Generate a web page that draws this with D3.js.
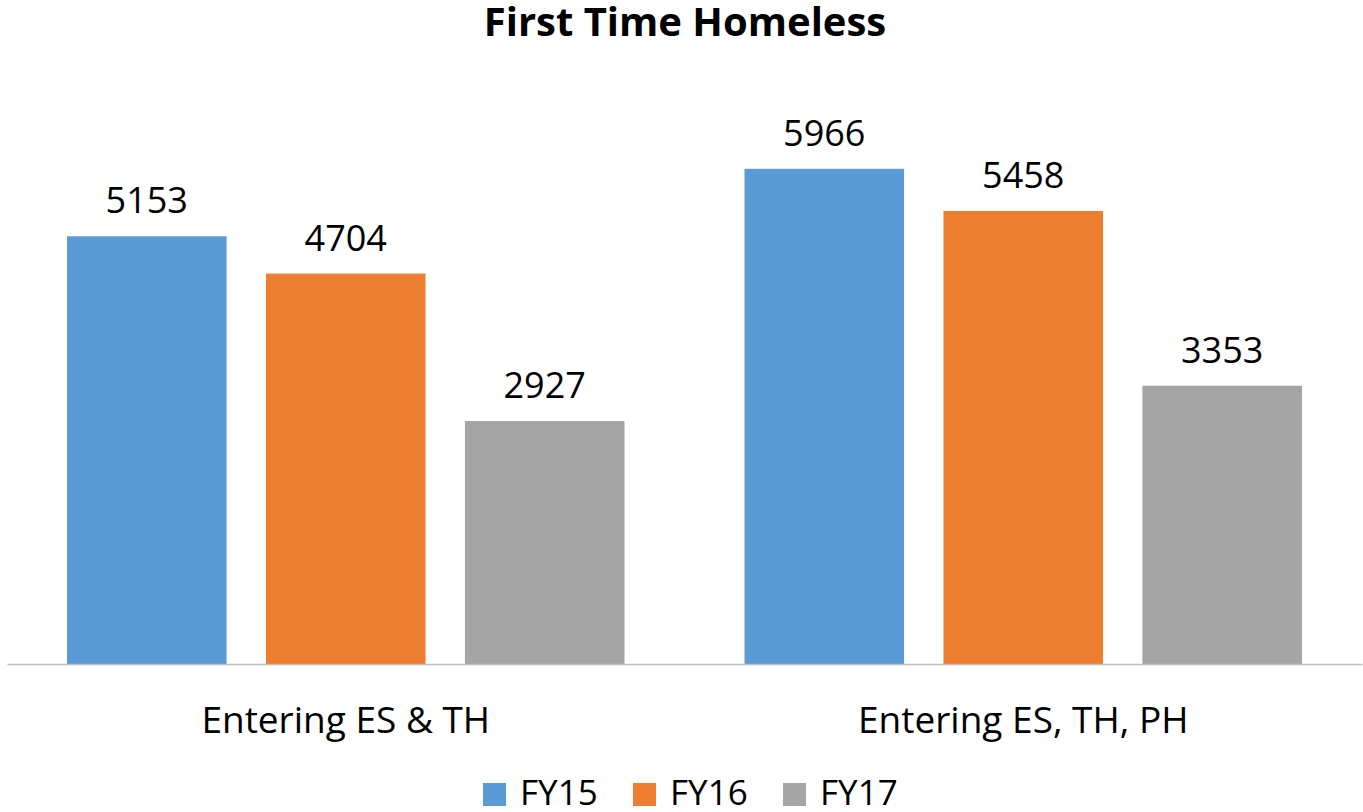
<!DOCTYPE html>
<html><head><meta charset="utf-8">
<script src="https://cdn.jsdelivr.net/npm/d3@7/dist/d3.min.js"></script>
<style>body{margin:0;background:#fff}svg{display:block}</style>
</head><body>
<script>
const categories = ["Entering ES & TH", "Entering ES, TH, PH"];
const seriesNames = ["FY15", "FY16", "FY17"];
const fy15 = [5153, 5966];
const fy16 = [4704, 5458];
const fy17 = [2927, 3353];
const colors = ["#5B9BD5", "#ED7D31", "#A5A5A5"];
const title = "First Time Homeless";

const W = 1363, H = 812;
const font = "'Open Sans', sans-serif";
const svg = d3.select("body").append("svg").attr("width", W).attr("height", H);

const seriesVals = [fy15, fy16, fy17];
const x0 = d3.scaleBand().domain(categories).range([7, 1362]).padding(0);
const x1 = d3.scaleBand().domain(seriesNames).range([60, x0.bandwidth() - 60]).paddingInner(0.198).paddingOuter(0);
const y = d3.scaleLinear().domain([0, 7000]).range([664, 83]);

svg.append("text").attr("x", 685).attr("y", 36).attr("text-anchor", "middle")
  .attr("font-family", font).attr("font-weight", "bold").attr("font-size", 40)
  .attr("fill", "#000").text(title);

const g = svg.append("g");
categories.forEach((c, ci) => {
  const gg = g.append("g").attr("transform", `translate(${x0(c)},0)`);
  seriesNames.forEach((s, si) => {
    const v = seriesVals[si][ci];
    gg.append("rect").attr("x", x1(s)).attr("width", x1.bandwidth())
      .attr("y", y(v)).attr("height", y(0) - y(v)).attr("fill", colors[si]);
    gg.append("text").attr("x", x1(s) + x1.bandwidth() / 2).attr("y", y(v) - 23)
      .attr("text-anchor", "middle").attr("font-family", font).attr("font-size", 36)
      .attr("fill", "#000").text(v);
  });
});

const xAxis = svg.append("g").attr("transform", `translate(0,${y(0)})`)
  .call(d3.axisBottom(x0).tickSize(0).tickPadding(40));
xAxis.select(".domain").attr("stroke", "#BFBFBF").attr("stroke-width", 1.3);
xAxis.selectAll("text").attr("font-family", font).attr("font-size", 37).attr("fill", "#000")
  .attr("dy", null).attr("y", 69);

const legend = svg.append("g");
seriesNames.forEach((s, i) => {
  const lx = 483 + i * 150;
  legend.append("rect").attr("x", lx).attr("y", 783).attr("width", 23).attr("height", 23).attr("fill", colors[i]);
  legend.append("text").attr("x", lx + 37).attr("y", 805).attr("font-family", font)
    .attr("font-size", 35).attr("fill", "#000").text(s);
});
</script>
</body></html>
